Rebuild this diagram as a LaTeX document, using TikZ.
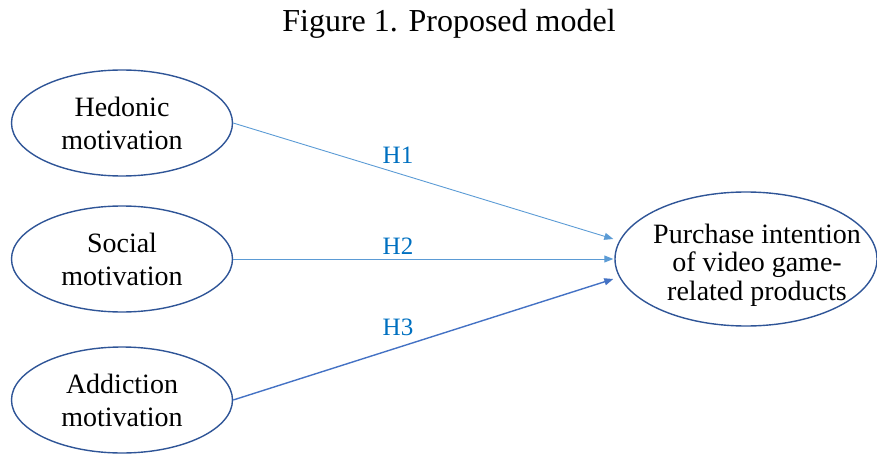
\documentclass[tikz,border=0pt]{standalone}
\usepackage{fontspec}
\setmainfont{Liberation Serif}
\usetikzlibrary{shapes.geometric,arrows.meta}
\definecolor{ringblue}{HTML}{2F5597}
\definecolor{linkblue}{HTML}{5B9BD5}
\definecolor{linkdark}{HTML}{4472C4}
\definecolor{labelblue}{HTML}{0070C0}
\begin{document}
\begin{tikzpicture}[x=1pt,y=1pt,
  construct/.style={ellipse, draw=ringblue, line width=1.4pt, inner sep=0pt,
    minimum width=221pt, minimum height=106pt, align=center,
    font=\fontsize{28}{33}\selectfont},
  outcome/.style={ellipse, draw=ringblue, line width=1.4pt, inner sep=0pt,
    minimum width=262pt, minimum height=134pt},
  caption/.style={align=center, inner sep=0pt, font=\fontsize{28}{28.5}\selectfont},
  path/.style={-{Triangle[length=9pt,width=7pt]}, line width=0.9pt, draw=linkblue},
  hyp/.style={text=labelblue, font=\fontsize{25}{25}\selectfont, inner sep=0pt}]
  \useasboundingbox (0,0) rectangle (877,-457);

  \node[font=\fontsize{32}{32}\selectfont] (title) at (449,-24) {Figure 1. Proposed model};

  \node[construct] (hed) at (122,-123) {Hedonic\\motivation};
  \node[construct] (soc) at (122,-259) {Social\\motivation};
  \node[construct] (add) at (122,-400) {Addiction\\motivation};
  \node[outcome] (pur) at (746,-259) {};
  \node[caption] (purtext) at (757,-265) {Purchase intention\\of video game-\\related products};

  \draw[path] (hed.east) -- ([yshift=20pt,xshift=-1pt]pur.west);
  \draw[path] (soc.east) -- ([xshift=-1pt]pur.west);
  \draw[path, draw=linkdark, line width=1.4pt] (add.east) -- ([yshift=-20pt,xshift=-1pt]pur.west);

  \node[hyp] (h1) at (398,-155) {H1};
  \node[hyp] (h2) at (398,-246) {H2};
  \node[hyp] (h3) at (398,-327) {H3};
\end{tikzpicture}
\end{document}
